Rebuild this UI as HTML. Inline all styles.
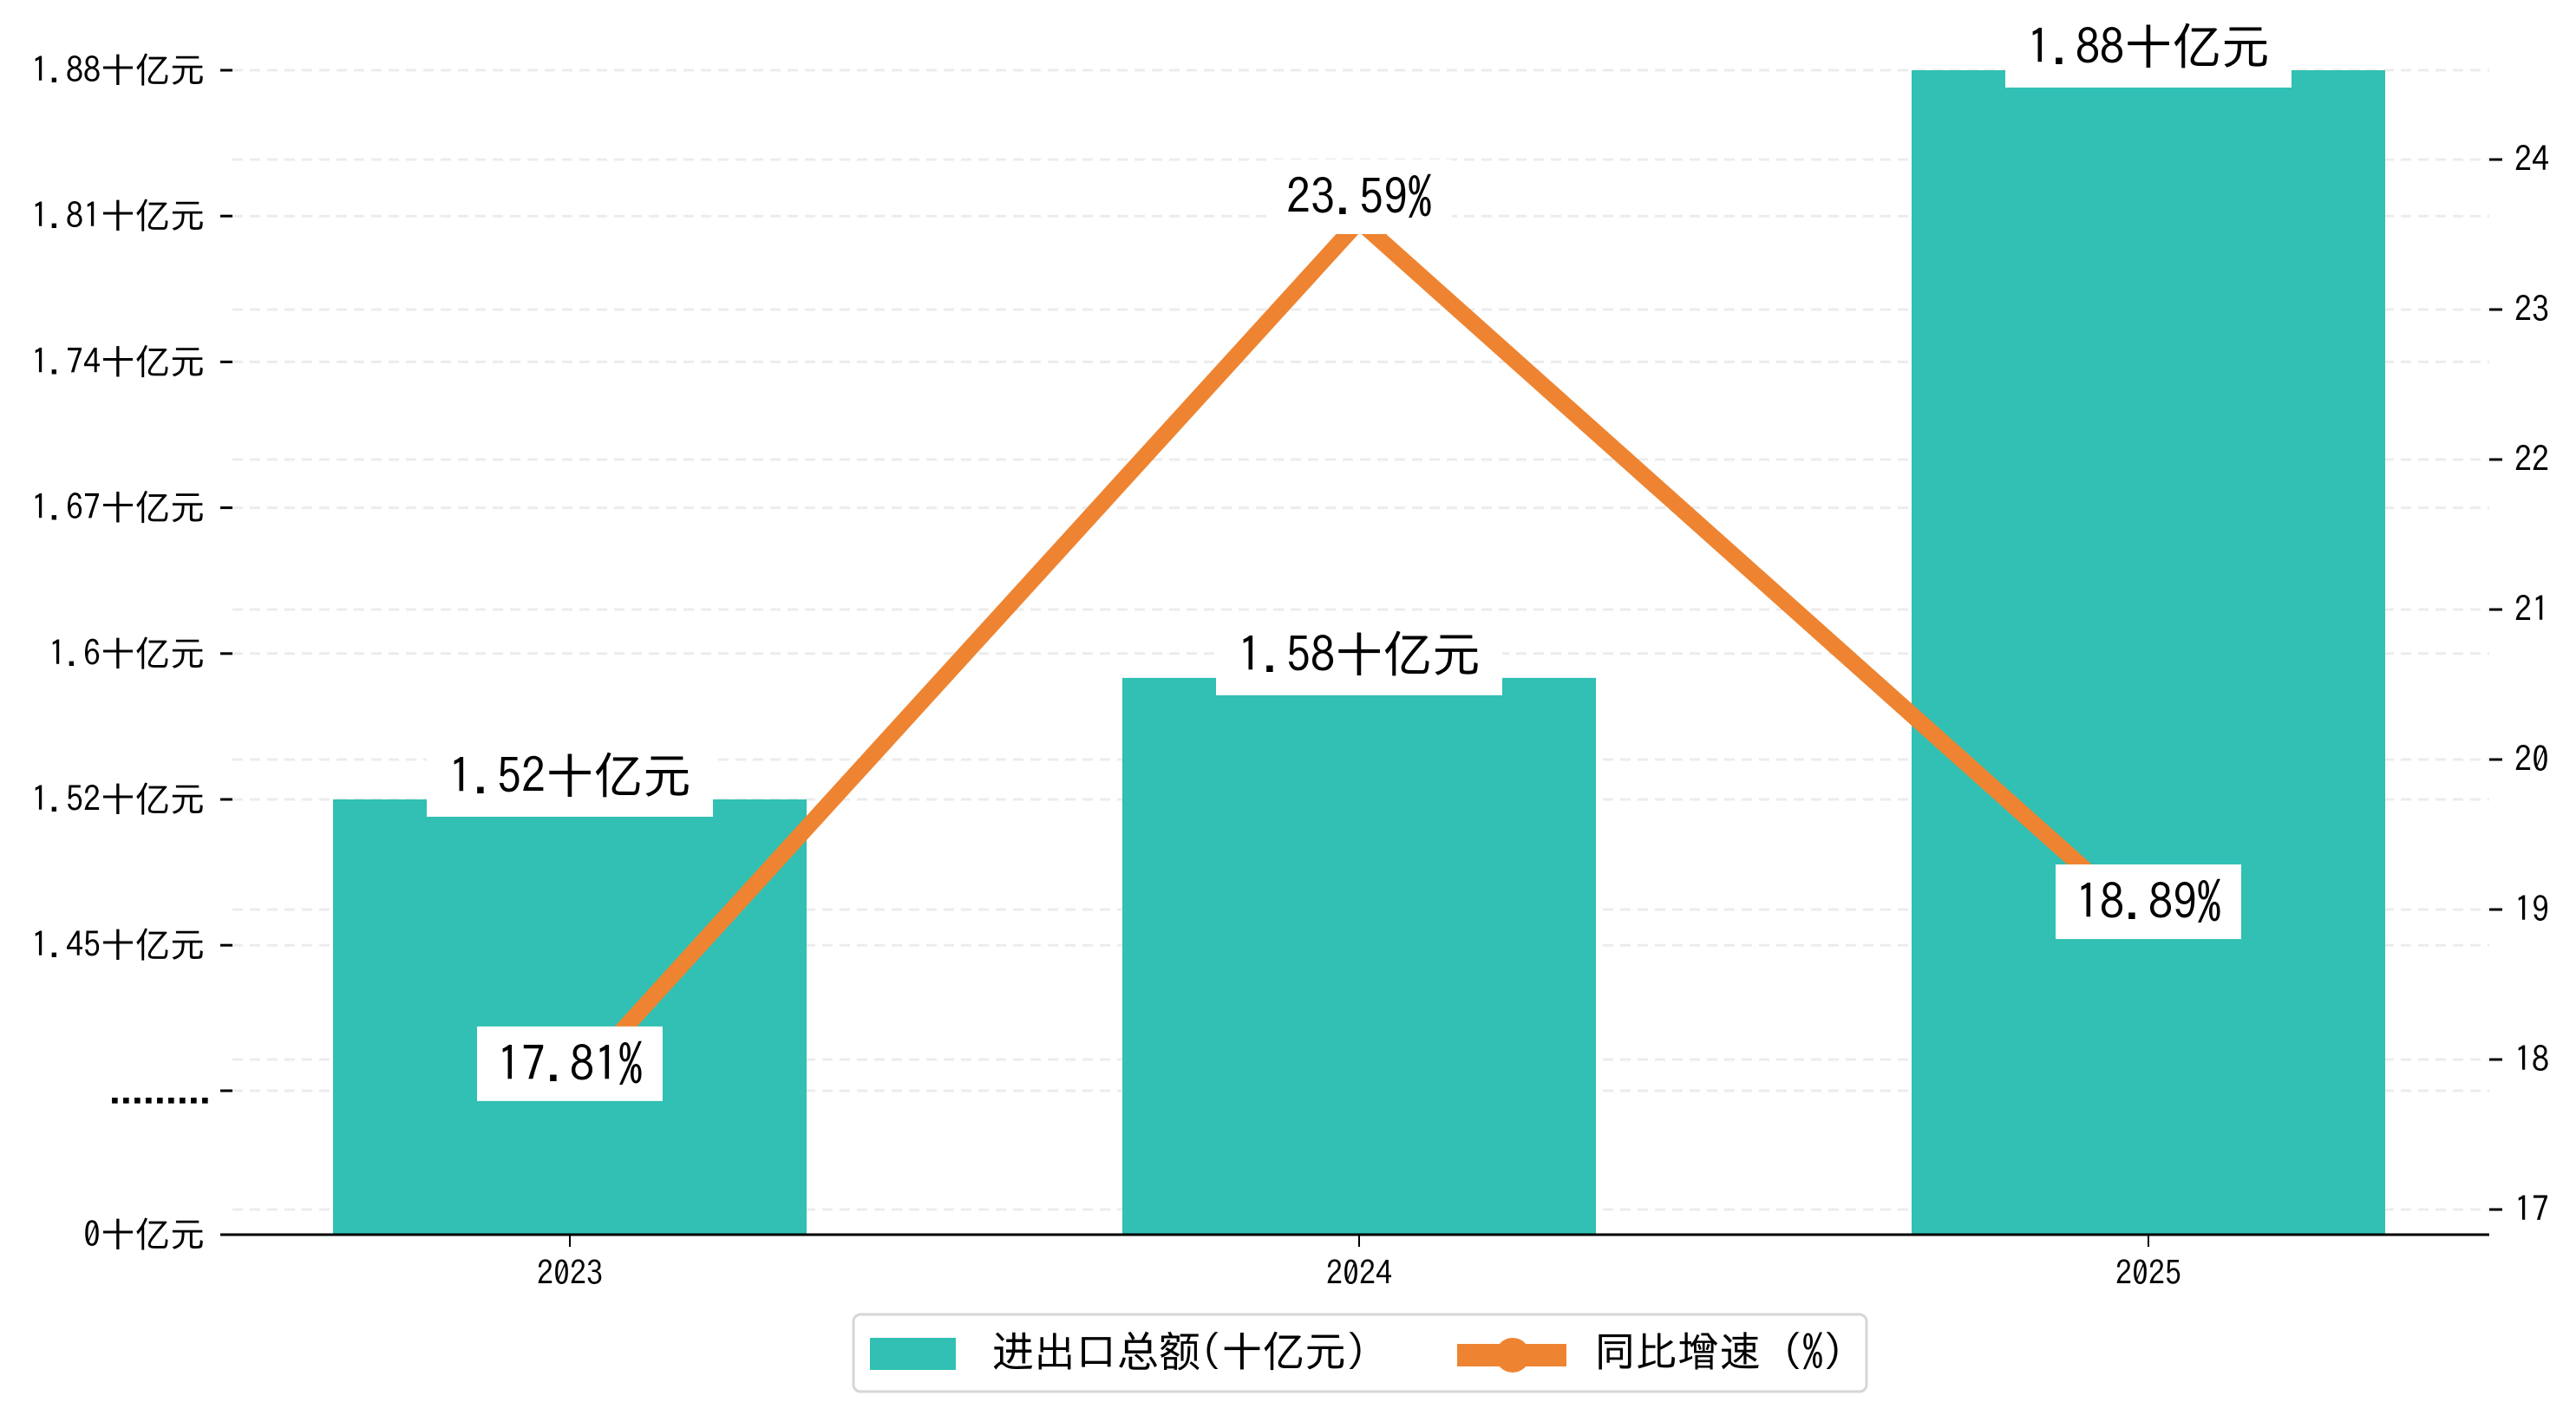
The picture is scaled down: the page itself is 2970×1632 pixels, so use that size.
<!DOCTYPE html>
<html><head><meta charset="utf-8"><style>
html,body{margin:0;padding:0;background:#fff;}
svg{display:block;font-family:"IPAGothic","Liberation Sans","Noto Sans CJK SC",sans-serif;}
</style></head><body>
<svg id="chart" width="2970" height="1632" viewBox="0 0 2970 1632" xmlns="http://www.w3.org/2000/svg">
<g id="grid"></g>
<g id="bars"></g>
<g id="line"></g>
<g id="labels"></g>
<g id="axes"></g>
<g id="legend">
  <rect x="984" y="1516" width="1168" height="89" rx="8" fill="#fff" stroke="#d6d6d6" stroke-width="3"/>
  <rect x="1003" y="1543" width="99" height="37" fill="#31c0b3"/>
  <text x="1144" y="1576" font-size="48">进出口总额(十亿元)</text>
  <line x1="1680" y1="1563" x2="1806" y2="1563" stroke="#ee8431" stroke-width="26"/>
  <circle cx="1744" cy="1563" r="20" fill="#ee8431"/>
  <text x="1838" y="1576" font-size="48">同比增速 (%)</text>
</g>
</svg>
<script>
const categories = ["2023","2024","2025"];
const totals = [1.52,1.58,1.88];
const totalLabels = ["1.52十亿元","1.58十亿元","1.88十亿元"];
const growth = [17.81,23.59,18.89];
const growthLabels = ["17.81%","23.59%","18.89%"];
const leftTickValues = [1.448,1.52,1.592,1.664,1.736,1.808,1.88];
const leftTickLabels = ["1.45十亿元","1.52十亿元","1.6十亿元","1.67十亿元","1.74十亿元","1.81十亿元","1.88十亿元"];
const rightTicks = [17,18,19,20,21,22,23,24];

const NS="http://www.w3.org/2000/svg";
function mk(tag, attrs, parent, txt){const e=document.createElementNS(NS,tag);for(const k in attrs)e.setAttribute(k,attrs[k]);if(txt!==undefined)e.textContent=txt;parent.appendChild(e);return e;}
const xC = i => 657 + i*910;
const yL = v => 922 - (v-1.52)*(841/0.36);
const yR = v => 1395 - (v-17)*173;
const BASE=1424, BW=546;
const grid=document.getElementById('grid'), bars=document.getElementById('bars'), lineG=document.getElementById('line'), labG=document.getElementById('labels'), axes=document.getElementById('axes');

const gridYs=[];
leftTickValues.forEach(v=>gridYs.push(yL(v)));
gridYs.push(1258);
rightTicks.forEach(v=>gridYs.push(yR(v)));
gridYs.forEach(y=>{
  const g=mk('line',{x1:268,x2:2870,y1:y,y2:y,stroke:'#ececec','stroke-width':3,'stroke-dasharray':'12 8'},grid);
  
  
});

totals.forEach((v,i)=>{
  const r=mk('rect',{x:xC(i)-BW/2,y:yL(v),width:BW,height:BASE-yL(v),fill:'#31c0b3'},bars);
  
  
});

const pts=growth.map((v,i)=>xC(i)+','+yR(v)).join(' ');
const pl=mk('polyline',{points:pts,fill:'none',stroke:'#ee8431','stroke-width':19,'stroke-linejoin':'miter'},lineG);



totals.forEach((v,i)=>{
  const top=yL(v);
  const b=mk('rect',{x:xC(i)-165,y:top-66,width:330,height:86,fill:'#fff'},labG);
  
  
  const t=mk('text',{x:xC(i),y:top-7,'font-size':56,'text-anchor':'middle'},labG,totalLabels[i]);
  
  
});
growth.forEach((v,i)=>{
  const cy=yR(v)-28;
  const b=mk('rect',{x:xC(i)-107,y:cy-43,width:214,height:86,fill:'#fff'},labG);
  
  
  const t=mk('text',{x:xC(i),y:cy+20,'font-size':56,'text-anchor':'middle'},labG,growthLabels[i]);
  
  
});

const xa=mk('line',{x1:256,x2:2870,y1:BASE,y2:BASE,stroke:'#000','stroke-width':3},axes);


categories.forEach((c,i)=>{
  const tk=mk('line',{x1:xC(i),x2:xC(i),y1:BASE,y2:BASE+14,stroke:'#000','stroke-width':2},axes);
  
  
  const t=mk('text',{x:xC(i),y:1482,'font-size':38,'text-anchor':'middle'},axes,c);
  
  
});
const leftAll=leftTickValues.map((v,i)=>[yL(v),leftTickLabels[i],0]);
leftAll.push([1258,'.........',1]);
leftAll.push([BASE,'0十亿元',0]);
leftAll.forEach(([y,lab,dots])=>{
  const tk=mk('line',{x1:254,x2:268,y1:y,y2:y,stroke:'#000','stroke-width':3},axes);
  
  
  const attrs={x:236,y:y+14,'font-size':40,'text-anchor':'end'};
  if(dots){attrs['letter-spacing']='-7';attrs['font-weight']='bold';attrs.x=243;}
  const t=mk('text',attrs,axes,lab);
  
  
});
rightTicks.forEach(v=>{
  const y=yR(v);
  const tk=mk('line',{x1:2870,x2:2885,y1:y,y2:y,stroke:'#000','stroke-width':3},axes);
  
  
  const t=mk('text',{x:2899,y:y+14,'font-size':40},axes,String(v));
  
  
});
</script>
</body></html>
